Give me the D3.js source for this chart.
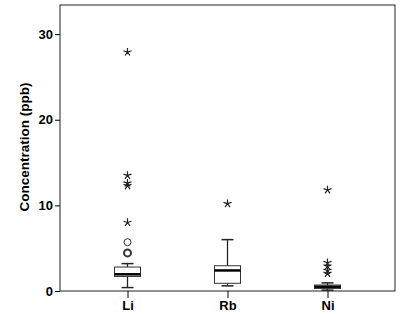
<!DOCTYPE html>
<html>
<head>
<meta charset="utf-8">
<script src="https://cdn.jsdelivr.net/npm/d3@7"></script>
<style>
  body { margin: 0; background: #fff; }
  text { font-family: Arial, "Liberation Sans", sans-serif; font-weight: bold; }
</style>
</head>
<body>
<div id="chart"></div>
<script>
// box plot stats
var elements = ["Li", "Rb", "Ni"];
var whisker_low = [0.4, 0.6, 0.1];
var box_low = [1.7, 0.9, 0.3];
var medians = [1.95, 2.4, 0.5];
var box_high = [2.8, 2.95, 0.7];
var whisker_high = [3.2, 6.0, 0.95];
// outliers: circles (o) and extremes (stars)
var circle_outliers = [["Li", 5.7, 1], ["Li", 4.45, 2]];
var star_outliers = [
    ["Li", 27.9], ["Li", 13.5], ["Li", 12.6], ["Li", 12.3], ["Li", 8.0],
    ["Rb", 10.2],
    ["Ni", 11.8], ["Ni", 3.3], ["Ni", 2.9], ["Ni", 2.4], ["Ni", 2.05]
];
var y_ticks = [0, 10, 20, 30];

var width = 403, height = 314;
var margin = { top: 5, right: 8, bottom: 23, left: 60 };

var svg = d3.select("#chart").append("svg")
    .attr("width", width)
    .attr("height", height);

var x = d3.scalePoint()
    .domain(elements)
    .range([margin.left, width - margin.right])
    .padding(0.675);

var y = d3.scaleLinear()
    .domain([0, 33.4])
    .range([height - margin.bottom, margin.top]);

// frame
svg.append("rect")
    .attr("x", margin.left)
    .attr("y", margin.top)
    .attr("width", width - margin.right - margin.left)
    .attr("height", height - margin.bottom - margin.top)
    .style("fill", "none")
    .style("stroke", "#222")
    .style("stroke-width", 1);

// axes
svg.append("g")
    .attr("transform", "translate(" + margin.left + ",0)")
    .style("font-size", "13px")
    .call(d3.axisLeft(y).tickValues(y_ticks).tickSize(5).tickPadding(2))
    .call(function (g) { g.select(".domain").remove(); })
    .call(function (g) { g.selectAll("text").style("font-weight", "bold").attr("fill", "#000"); });

svg.append("g")
    .attr("transform", "translate(0," + (height - margin.bottom) + ")")
    .style("font-size", "13px")
    .call(d3.axisBottom(x).tickSize(7).tickPadding(3))
    .call(function (g) { g.select(".domain").remove(); })
    .call(function (g) { g.selectAll("text").style("font-weight", "bold").attr("fill", "#000"); });

svg.append("text")
    .attr("transform", "translate(29," + ((margin.top + height - margin.bottom) / 2 - 1) + ") rotate(-90)")
    .attr("text-anchor", "middle")
    .style("font-size", "13.5px")
    .text("Concentration (ppb)");

var boxW = 26, capW = 12;
var boxes = svg.selectAll(".box")
    .data(elements)
    .enter().append("g")
    .attr("class", "box");

// whiskers
boxes.append("line")
    .attr("x1", function (d) { return x(d); })
    .attr("x2", function (d) { return x(d); })
    .attr("y1", function (d, i) { return y(whisker_low[i]); })
    .attr("y2", function (d, i) { return y(whisker_high[i]); })
    .style("stroke", "#222").style("stroke-width", 1.3);
boxes.append("line")
    .attr("x1", function (d) { return x(d) - capW / 2; })
    .attr("x2", function (d) { return x(d) + capW / 2; })
    .attr("y1", function (d, i) { return y(whisker_low[i]); })
    .attr("y2", function (d, i) { return y(whisker_low[i]); })
    .style("stroke", "#222").style("stroke-width", 1.5);
boxes.append("line")
    .attr("x1", function (d) { return x(d) - capW / 2; })
    .attr("x2", function (d) { return x(d) + capW / 2; })
    .attr("y1", function (d, i) { return y(whisker_high[i]); })
    .attr("y2", function (d, i) { return y(whisker_high[i]); })
    .style("stroke", "#222").style("stroke-width", 1.5);

// boxes
boxes.append("rect")
    .attr("x", function (d) { return x(d) - boxW / 2; })
    .attr("width", boxW)
    .attr("y", function (d, i) { return y(box_high[i]); })
    .attr("height", function (d, i) { return y(box_low[i]) - y(box_high[i]); })
    .style("fill", "#fff")
    .style("stroke", "#333")
    .style("stroke-width", 1);

boxes.append("line")
    .attr("x1", function (d) { return x(d) - boxW / 2; })
    .attr("x2", function (d) { return x(d) + boxW / 2; })
    .attr("y1", function (d, i) { return y(medians[i]); })
    .attr("y2", function (d, i) { return y(medians[i]); })
    .style("stroke", "#000").style("stroke-width", 2.5);

// outliers
svg.selectAll(".circ")
    .data(circle_outliers)
    .enter().append("circle")
    .attr("cx", function (d) { return x(d[0]); })
    .attr("cy", function (d) { return y(d[1]); })
    .attr("r", 3.5)
    .style("fill", "none")
    .style("stroke", "#333")
    .style("stroke-width", function (d) { return d[2] > 1 ? 2 : 1; });

function asterisk(r) {
    var p = "";
    for (var k = 0; k < 5; k++) {
        var a = -Math.PI / 2 + k * 2 * Math.PI / 5;
        p += "M0,0L" + (r * Math.cos(a)).toFixed(2) + "," + (r * Math.sin(a)).toFixed(2);
    }
    return p;
}

svg.selectAll(".star")
    .data(star_outliers)
    .enter().append("path")
    .attr("transform", function (d) { return "translate(" + x(d[0]) + "," + y(d[1]) + ")"; })
    .attr("d", asterisk(4.2))
    .style("fill", "none")
    .style("stroke", "#222")
    .style("stroke-width", 1.2);
</script>
</body>
</html>
